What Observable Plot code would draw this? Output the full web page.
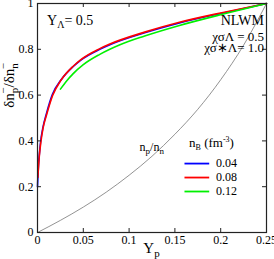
<!DOCTYPE html>
<html><head><meta charset="utf-8">
<script src="https://cdn.jsdelivr.net/npm/d3@7"></script>
<script src="https://cdn.jsdelivr.net/npm/@observablehq/plot@0.6"></script>
<style>body{margin:0;background:#fff;} svg{display:block}</style>
</head><body><div id="chart"></div>
<script>
// ---- data ----
const xTicks = [0, 0.05, 0.1, 0.15, 0.2, 0.25];
const xTickLabels = ["0", "0.05", "0.1", "0.15", "0.2", "0.25"];
const yTicks = [0, 0.2, 0.4, 0.6, 0.8, 1];
const yTickLabels = ["0", "0.2", "0.4", "0.6", "0.8", "1"];

const nBLabels = ["0.04", "0.08", "0.12"];

const yp004 = [0, 0.001, 0.002, 0.0033, 0.006, 0.0098, 0.0163, 0.026, 0.039, 0.047, 0.068, 0.079, 0.117, 0.155, 0.204, 0.25];
const ratio004 = [0.20, 0.29, 0.34, 0.393, 0.46, 0.52, 0.603, 0.668, 0.725, 0.752, 0.800, 0.820, 0.872, 0.915, 0.960, 1.0];

const yp008 = [0.0004, 0.001, 0.002, 0.0035, 0.006, 0.010, 0.0165, 0.026, 0.039, 0.047, 0.068, 0.079, 0.117, 0.155, 0.204, 0.25];
const ratio008 = [0.24, 0.28, 0.335, 0.39, 0.455, 0.515, 0.598, 0.667, 0.726, 0.754, 0.803, 0.823, 0.875, 0.918, 0.962, 1.0];

const yp012 = [0.025, 0.032, 0.039, 0.05, 0.068, 0.09, 0.117, 0.155, 0.204, 0.25];
const ratio012 = [0.626, 0.663, 0.694, 0.733, 0.778, 0.82, 0.858, 0.904, 0.955, 1.0];

const ypDens = [0, 0.025, 0.05, 0.075, 0.1, 0.125, 0.15, 0.175, 0.2, 0.225, 0.25];
const npOverNn = [0, 0.053, 0.111, 0.176, 0.25, 0.333, 0.429, 0.538, 0.667, 0.818, 1.0];

// ---- build ----
const colors = ["#0000ff", "#ff0000", "#00f000"];
const series = [[yp004, ratio004], [yp008, ratio008], [yp012, ratio012]]
  .map(([xs, ys]) => xs.map((x, i) => ({x, y: ys[i]})));
const densRows = ypDens.map((x, i) => ({x, y: npOverNn[i]}));
const legendY = [0.301, 0.240, 0.179];

const font = "'Liberation Serif', 'Times New Roman', serif";

const chart = Plot.plot({
  width: 274, height: 259,
  marginLeft: 37, marginRight: 8, marginTop: 3, marginBottom: 27,
  x: {domain: [0, 0.25]},
  y: {domain: [0, 1]},
  style: {fontFamily: font, fontSize: "12px", color: "#000", background: "#fff", overflow: "visible"},
  marks: [
    Plot.line(densRows, {x: "x", y: "y", stroke: "#777", strokeWidth: 0.8, curve: "monotone-x"}),
    ...series.map((rows, k) => Plot.line(rows, {x: "x", y: "y", stroke: colors[k], strokeWidth: 1.6, curve: "monotone-x"})),
    Plot.ruleY(nBLabels, {y: (d, i) => legendY[i], x1: 0.161, x2: 0.188, stroke: (d, i) => colors[i], strokeWidth: 1.8}),
    Plot.text(nBLabels, {x: 0.195, y: (d, i) => legendY[i], text: d => d, textAnchor: "start", fontSize: 12}),
    Plot.tickX(xTicks, {x: d => d, insetTop: 225, stroke: "#222"}),
    Plot.tickX(xTicks, {x: d => d, insetBottom: 225, stroke: "#222"}),
    Plot.tickY(yTicks, {y: d => d, insetRight: 225, stroke: "#222"}),
    Plot.tickY(yTicks, {y: d => d, insetLeft: 225, stroke: "#222"}),
    Plot.axisX({ticks: xTicks, tickSize: 0, tickPadding: 3, tickFormat: d => xTickLabels[xTicks.indexOf(d)], label: null, fontSize: 12}),
    Plot.axisY({ticks: yTicks, tickSize: 0, tickPadding: 4, tickFormat: d => yTickLabels[yTicks.indexOf(d)], label: null, fontSize: 12}),
    Plot.frame({stroke: "#222", strokeWidth: 1.2})
  ]
});
document.getElementById("chart").appendChild(chart);

const sx = chart.scale("x"), sy = chart.scale("y");
const svg = d3.select(chart);

function rich(x, y, parts, opts = {}) {
  const t = svg.append("text")
    .attr("x", x).attr("y", y)
    .attr("font-family", font)
    .attr("font-size", opts.size || 14)
    .attr("fill", "#000")
    .attr("text-anchor", opts.anchor || "start");
  if (opts.rotate) t.attr("transform", `rotate(${opts.rotate},${x},${y})`);
  for (const p of parts) {
    const s = t.append("tspan").text(p.t);
    if (p.size) s.attr("font-size", p.size);
    if (p.dy) s.attr("dy", p.dy);
    if (p.dx) s.attr("dx", p.dx);
  }
  return t;
}

// annotations
rich(sx.apply(0.011), sy.apply(0.904), [{t: "Y"}, {t: "Λ", size: 10, dy: 3}, {t: "= 0.5", dy: -3}], {size: 14});
rich(sx.apply(0.2478), sy.apply(0.904), [{t: "NLWM"}], {size: 14, anchor: "end"});
rich(sx.apply(0.2478), sy.apply(0.836), [{t: "χσΛ = 0.5"}], {size: 13, anchor: "end"});
rich(sx.apply(0.2478), sy.apply(0.784), [{t: "χσ∗Λ= 1.0"}], {size: 13, anchor: "end"});
rich(sx.apply(0.112), sy.apply(0.355), [{t: "n"}, {t: "p", size: 9, dy: 3}, {t: "/n", dy: -3}, {t: "n", size: 9, dy: 3}], {size: 12});
rich(sx.apply(0.166), sy.apply(0.371), [{t: "n"}, {t: "B", size: 8, dy: 3}, {t: " (fm", dy: -3}, {t: "-3", size: 8, dy: -5}, {t: ")", dy: 5}], {size: 13});
rich(sx.apply(0.125), 253, [{t: "Y"}, {t: "p", size: 11, dy: 4}], {size: 15, anchor: "middle"});
rich(14, sy.apply(0.64), [
  {t: "δn"}, {t: "p", size: 11, dy: 4}, {t: "−", size: 11, dx: -6, dy: -11},
  {t: "/δn", dy: 7}, {t: "n", size: 11, dy: 4}, {t: "−", size: 11, dx: -6, dy: -11}
], {size: 15, anchor: "middle", rotate: -90});
</script>
</body></html>
